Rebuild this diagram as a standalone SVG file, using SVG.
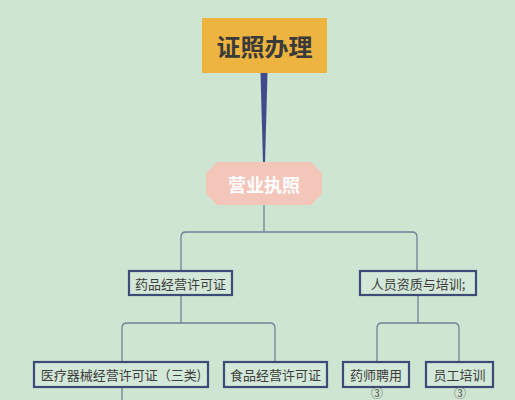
<svg xmlns="http://www.w3.org/2000/svg" width="515" height="400" viewBox="0 0 515 400">
<style>
.bg{fill:#cee5d2}
.conn{fill:none;stroke:#6f8197;stroke-width:1.3}
.box{fill:#d3e8d8;stroke:#3c4b78;stroke-width:2.2}
.t{font-family:"Noto Sans CJK SC","Noto Sans",sans-serif;fill:#3d3d3d;font-size:13px;text-anchor:middle;dominant-baseline:central}
.num{font-family:"Noto Sans CJK SC","DejaVu Sans",sans-serif;fill:#555;font-size:12px;text-anchor:middle;dominant-baseline:central}
</style>
<rect class="bg" x="0" y="0" width="515" height="400"/>
<g id="connectors">
<polygon points="260.5,73 267.5,73 265,163 263,163" fill="#3f4b8c"/>
<path class="conn" d="M264,203 V232"/>
<path class="conn" d="M181,271 V237 Q181,232 186,232 H412 Q417,232 417,237 V271"/>
<path class="conn" d="M181,295 V323"/>
<path class="conn" d="M122,362 V328 Q122,323 127,323 H270 Q275,323 275,328 V362"/>
<path class="conn" d="M122,387 V400"/>
<path class="conn" d="M418,295 V323"/>
<path class="conn" d="M377,362 V328 Q377,323 382,323 H454 Q459,323 459,328 V362"/>
</g>
<g id="root">
<rect x="202" y="18" width="125" height="55" fill="#edb43f"/>
<text x="264.5" y="45.5" class="t" style="font-size:24px;font-weight:bold;fill:#3a3a3a">证照办理</text>
</g>
<g id="yingye">
<path d="M218,164 H310 L320,174 V193 L310,203 H218 L208,193 V174 Z" fill="#f4c5b9" stroke="#f4c5b9" stroke-width="4" stroke-linejoin="round"/>
<text x="264" y="183.5" class="t" style="font-size:18px;font-weight:bold;fill:#ffffff">营业执照</text>
</g>
<g id="yaopin">
<rect class="box" x="129" y="271" width="103" height="24"/>
<text x="180.5" y="283" class="t">药品经营许可证</text>
</g>
<g id="renyuan">
<rect class="box" x="360" y="271" width="116" height="24"/>
<text x="418" y="283" class="t">人员资质与培训;</text>
</g>
<g id="yiliao">
<rect class="box" x="34" y="362" width="174" height="25"/>
<text x="121" y="374.5" class="t">医疗器械经营许可证（三类)</text>
</g>
<g id="shipin">
<rect class="box" x="224" y="362" width="103" height="25"/>
<text x="275.5" y="374.5" class="t">食品经营许可证</text>
</g>
<g id="yaoshi">
<rect class="box" x="343" y="362" width="66" height="25"/>
<text x="376" y="374.5" class="t">药师聘用</text>
<text x="377" y="392" class="num">③</text>
</g>
<g id="yuangong">
<rect class="box" x="426" y="362" width="67" height="25"/>
<text x="459.5" y="374.5" class="t">员工培训</text>
<text x="460" y="392" class="num">③</text>
</g>
</svg>
